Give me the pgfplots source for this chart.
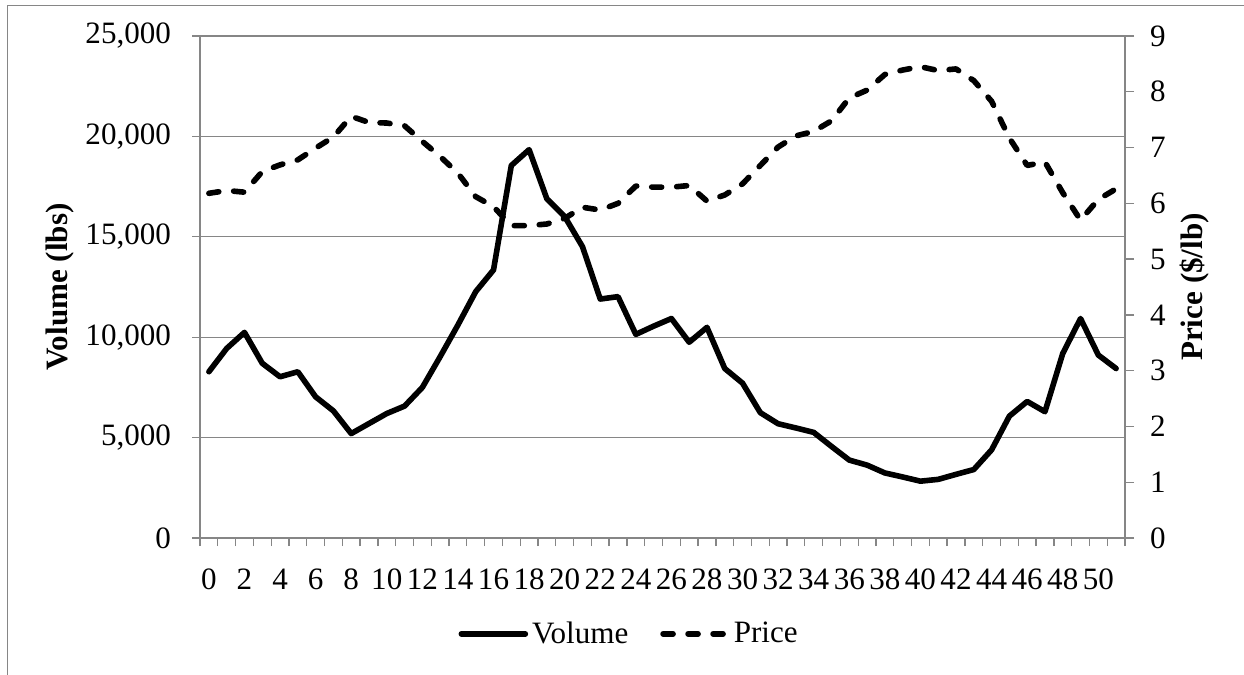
\documentclass[border=0pt]{standalone}
\usepackage{fontspec}
\setmainfont{Liberation Serif}
\usepackage{pgfplots}
\usepackage{pgfplotstable}
\pgfplotsset{compat=1.18}
\definecolor{axisgray}{RGB}{134,134,134}

% week, volume (lbs), price ($/lb)
\pgfplotstableread{
wk vol price
0 8280 6.18
1 9440 6.23
2 10240 6.20
3 8700 6.57
4 8030 6.69
5 8280 6.78
6 7030 6.99
7 6330 7.19
8 5200 7.56
9 5700 7.45
10 6200 7.44
11 6570 7.39
12 7500 7.11
13 9030 6.84
14 10610 6.54
15 12270 6.12
16 13350 5.94
17 18550 5.60
18 19340 5.60
19 16890 5.63
20 16010 5.73
21 14510 5.93
22 11900 5.88
23 12020 6.00
24 10140 6.31
25 10550 6.29
26 10930 6.29
27 9750 6.32
28 10490 6.04
29 8440 6.15
30 7710 6.35
31 6240 6.68
32 5690 7.01
33 5480 7.21
34 5260 7.29
35 4560 7.48
36 3880 7.89
37 3630 8.03
38 3240 8.31
39 3040 8.39
40 2830 8.45
41 2920 8.38
42 3170 8.41
43 3410 8.20
44 4390 7.83
45 6070 7.17
46 6800 6.68
47 6290 6.74
48 9190 6.19
49 10930 5.70
50 9110 6.07
51 8440 6.26
}\datatable

\newcommand{\lblfont}{\fontsize{15.6}{18}\selectfont}

\pgfplotsset{
  common/.style={
    at={(100bp,68bp)}, anchor=south west,
    scale only axis, width=462.5bp, height=251bp,
    xmin=-0.5, xmax=51.5,
    tick align=outside,
    /pgf/number format/assume math mode=true,
    /pgf/number format/1000 sep={,},
    tick label style={font=\lblfont, text=black},
    axis line style={axisgray, line width=0.65bp},
    every tick/.style={axisgray, line width=0.65bp},
    major tick length=4bp,
    label style={font=\bfseries\lblfont},
    legend style={font=\lblfont},
  },
  volline/.style={black, line width=2.8bp, line join=round, line cap=round},
  priceline/.style={black, line width=2.8bp, line join=round, line cap=round,
    dash pattern=on 5bp off 7.5bp},
}

\begin{document}
\begin{tikzpicture}[x=1bp,y=1bp]
\useasboundingbox (0,0) rectangle (622,337);
% chart area frame
\draw[axisgray, line width=0.65bp] (3.65,-2) -- (3.65,334.4) -- (624,334.4);

% volume (left axis)
\begin{axis}[common,
  axis x line*=bottom, axis y line*=left,
  ymin=0, ymax=25000, ytick={0,5000,...,25000},
  scaled y ticks=false,
  ymajorgrids, grid style={axisgray, line width=0.65bp},
  xtick={-0.5,0.5,...,51.5}, xticklabels={},
  extra x ticks={0,2,...,50},
  extra x tick style={major tick length=0pt, grid=none,
    xticklabel style={yshift=-12bp}},
  yticklabel style={xshift=-7bp},
  ylabel={Volume (lbs)},
  ylabel style={at={(axis description cs:-0.151,0.5)}, anchor=center},
]
\addplot[volline] table[x=wk, y=vol]{\datatable};
\end{axis}

% price (right axis)
\begin{axis}[common,
  axis x line=none, axis y line*=right,
  ymin=0, ymax=9, ytick={0,1,...,9},
  major tick length=4.5bp,
  yticklabel style={xshift=4.5bp},
  ylabel={Price (\$/lb)},
  ylabel style={at={(axis description cs:1.0757,0.5)}, anchor=center},
  legend style={at={(0.465,-0.191)}, anchor=center, draw=none, fill=none,
    legend columns=2,
    /tikz/every even column/.append style={column sep=14bp}},
  legend image code/.code={\draw[#1] (0bp,0bp) -- (32bp,0bp);},
]
\addlegendimage{volline}
\addlegendentry{Volume}
\addplot[priceline] table[x=wk, y=price]{\datatable};
\addlegendentry{Price}
\end{axis}
\end{tikzpicture}
\end{document}
